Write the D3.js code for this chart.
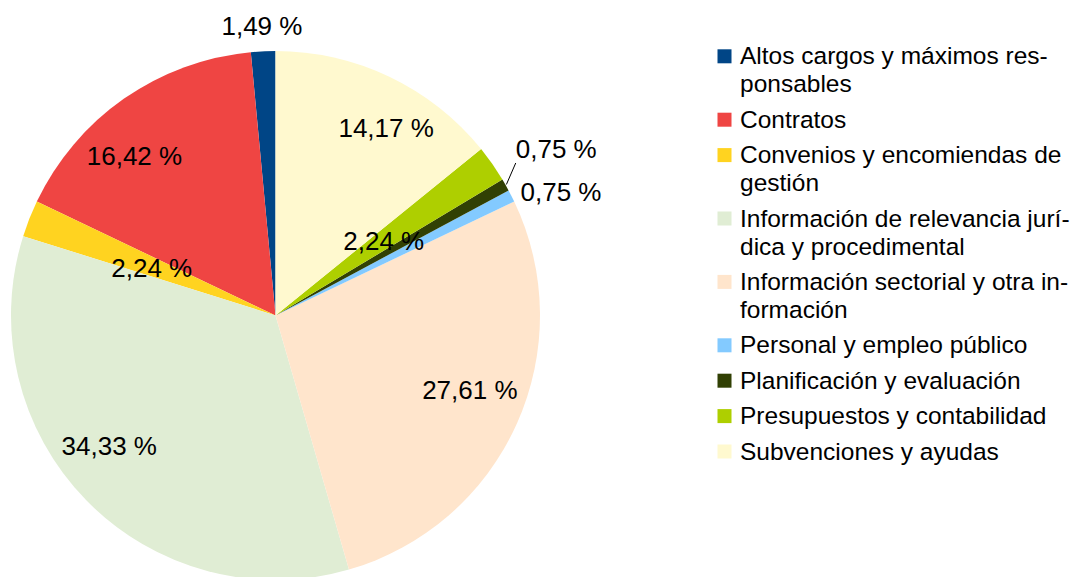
<!DOCTYPE html>
<html>
  <head>
    <meta charset="utf-8">
    <script src="https://d3js.org/d3.v7.min.js"></script>
    <style>
      body {
        margin: 0px;
        background: #ffffff;
      }
      text {
        font-family: "Liberation Sans", Arial, sans-serif;
        fill: #000000;
      }
      .slice-label {
        font-size: 26px;
      }
      .legend-label {
        font-size: 24.5px;
      }
    </style>
  </head>
  <body>
    <svg width="1072" height="577"></svg>
    <script>
      // categories in legend order (the pie runs counterclockwise from 12 o'clock)
      var categories = [
        "Altos cargos y máximos responsables",
        "Contratos",
        "Convenios y encomiendas de gestión",
        "Información de relevancia jurídica y procedimental",
        "Información sectorial y otra información",
        "Personal y empleo público",
        "Planificación y evaluación",
        "Presupuestos y contabilidad",
        "Subvenciones y ayudas"
      ];
      // legend lines, hyphenated as in the original
      var legendLines = [
        ["Altos cargos y máximos res-", "ponsables"],
        ["Contratos"],
        ["Convenios y encomiendas de", "gestión"],
        ["Información de relevancia jurí-", "dica y procedimental"],
        ["Información sectorial y otra in-", "formación"],
        ["Personal y empleo público"],
        ["Planificación y evaluación"],
        ["Presupuestos y contabilidad"],
        ["Subvenciones y ayudas"]
      ];
      var shares = [1.49, 16.42, 2.24, 34.33, 27.61, 0.75, 0.75, 2.24, 14.17];
      var colors = ["#004586", "#ef4543", "#ffd320", "#e0edd4", "#ffe5cc",
                    "#83caff", "#314004", "#aecf00", "#fff9cf"];

      // label placement: radius as a fraction of the pie radius, angle nudge in degrees
      var labelRadius = [1.096, 0.806, 0.501, 0.798, 0.787, 1.176, 1.234, 0.497, 0.824];
      var labelNudge = [0, -6.5, -0.6, 6.3, -3.2, 3.5, -1.1, 0.4, 5.0];
      var leaderLine = [false, false, false, false, false, false, true, false, false];

      var cx = 275.5;
      var cy = 315.5;
      var radius = 264.5;

      var fmt = function (v) { return d3.format(".2f")(v).replace(".", ",") + " %"; };

      var svg = d3.select("svg");

      var pie = d3.pie()
        .sort(null)
        .value(function (d) { return d; })
        .startAngle(0)
        .endAngle(-2 * Math.PI);

      var arcs = pie(shares);

      var arc = d3.arc().innerRadius(0).outerRadius(radius);

      var g = svg.append("g")
        .attr("transform", "translate(" + cx + "," + cy + ")");

      g.selectAll("path")
        .data(arcs)
        .enter()
        .append("path")
        .attr("d", arc)
        .style("fill", function (d, i) { return colors[i]; });

      function labelPoint(d, i) {
        var a = (d.startAngle + d.endAngle) / 2 + labelNudge[i] * Math.PI / 180;
        var r = radius * labelRadius[i];
        return [r * Math.sin(a), -r * Math.cos(a)];
      }

      var labels = g.selectAll(".slice-label")
        .data(arcs)
        .enter()
        .append("text")
        .attr("class", "slice-label")
        .attr("text-anchor", "middle")
        .attr("x", function (d, i) { return labelPoint(d, i)[0]; })
        .attr("y", function (d, i) { return labelPoint(d, i)[1]; })
        .attr("dy", "0.35em")
        .text(function (d, i) { return fmt(shares[i]); });

      // leader line for the small outside label
      labels.each(function (d, i) {
        if (!leaderLine[i]) return;
        var p = labelPoint(d, i);
        var w = this.getComputedTextLength();
        var a = (d.startAngle + d.endAngle) / 2;
        g.append("line")
          .attr("x1", (radius + 1) * Math.sin(a))
          .attr("y1", -(radius + 1) * Math.cos(a))
          .attr("x2", p[0] - w / 2)
          .attr("y2", p[1] + 14)
          .style("stroke", "#000000")
          .style("stroke-width", 1);
      });

      // legend
      var legendX = 717.5;
      var textX = 740;
      var lineH = 28;
      var itemGap = 7.4;
      var y = 64.3;
      var starts = [];
      legendLines.forEach(function (lines) {
        starts.push(y);
        y += lines.length * lineH + itemGap;
      });

      var legend = svg.append("g");

      legend.selectAll("rect")
        .data(categories)
        .enter()
        .append("rect")
        .attr("x", legendX)
        .attr("y", function (d, i) { return starts[i] - 15; })
        .attr("width", 14)
        .attr("height", 14)
        .style("fill", function (d, i) { return colors[i]; });

      legend.selectAll(".legend-label")
        .data(categories)
        .enter()
        .append("text")
        .attr("class", "legend-label")
        .attr("x", textX)
        .attr("y", function (d, i) { return starts[i]; })
        .each(function (d, i) {
          var t = d3.select(this);
          legendLines[i].forEach(function (line, j) {
            t.append("tspan")
              .attr("x", textX)
              .attr("y", starts[i] + j * lineH)
              .text(line);
          });
        });
    </script>
  </body>
</html>
